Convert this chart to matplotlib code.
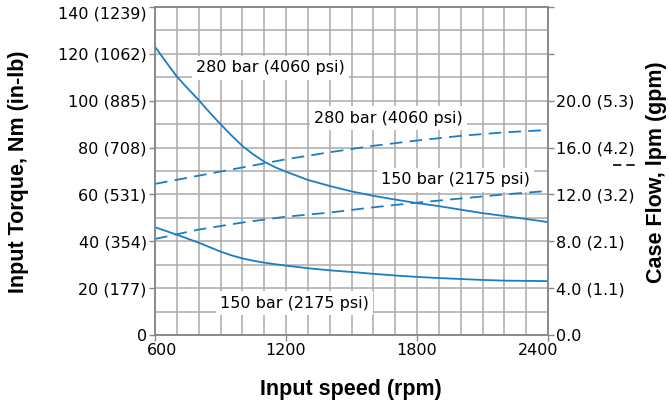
import matplotlib
matplotlib.use("Agg")
import matplotlib.pyplot as plt
import matplotlib.transforms as mtrans
from matplotlib.lines import Line2D
import numpy as np

plt.rcParams['font.family'] = ['DejaVu Sans']

# input speed, rpm
speed = [600, 650, 700, 750, 800, 850, 900, 950, 1000, 1050, 1100, 1150, 1200, 1300, 1400, 1500, 1600,
         1700, 1800, 1900, 2000, 2100, 2200, 2300, 2400]
# input torque, Nm
torque_280 = [123.0, 116.6, 110.3, 105.2, 100.3, 95.0, 90.0, 85.2, 80.7, 77.1, 74.0, 71.6, 69.7, 66.2, 63.6,
              61.3, 59.4, 57.8, 56.3, 55.0, 53.5, 52.0, 50.8, 49.5, 48.2]
torque_150 = [46.0, 44.4, 42.8, 41.1, 39.4, 37.5, 35.6, 34.0, 32.7, 31.7, 30.9, 30.2, 29.6, 28.5, 27.6,
              26.9, 26.1, 25.4, 24.8, 24.3, 23.9, 23.5, 23.2, 23.1, 23.0]
# case flow, lpm
flow_speed = [600, 800, 1000, 1200, 1400, 1600, 1800, 2000, 2200, 2400]
flow_280 = [12.9, 13.6, 14.3, 15.0, 15.6, 16.15, 16.6, 17.0, 17.3, 17.5]
flow_150 = [8.2, 9.0, 9.6, 10.1, 10.45, 10.9, 11.3, 11.65, 12.0, 12.3]

x_ticks = [600, 1200, 1800, 2400]
y_ticks = [0, 20, 40, 60, 80, 100, 120, 140]
y_labels = ["0", "20 (177)", "40 (354)", "60 (531)", "80 (708)", "100 (885)", "120 (1062)", "140 (1239)"]
flow_ticks = [0, 4, 8, 12, 16, 20, 24, 28]
flow_labels = ["0.0", "4.0 (1.1)", "8.0 (2.1)", "12.0 (3.2)", "16.0 (4.2)", "20.0 (5.3)", "", ""]

blue = "#1b7dc4"
grid_c = "#ababab"
fs = 11.5
bold = dict(family="Liberation Sans", fontsize=15.5, fontweight="bold", ha="center", va="center")

fig = plt.figure(figsize=(6.69, 4.04), dpi=100)
ax = fig.add_axes([0.2317, 0.1708, 0.5875, 0.8119])
ax2 = ax.twinx()

ax.set_xlim(600, 2400)
ax.set_ylim(0, 140)
ax2.set_ylim(0, 28)

ax.set_xticks(np.arange(600, 2401, 100), minor=True)
ax.set_yticks(np.arange(0, 141, 10), minor=True)
ax.grid(True, which="both", color=grid_c, linewidth=1.1)
ax.tick_params(which="minor", length=0)
ax.set_axisbelow(True)

ax.set_xticks(x_ticks)
ax.set_xticklabels([str(t) for t in x_ticks], fontsize=fs)
ax.set_yticks(y_ticks)
ax.set_yticklabels(y_labels, fontsize=fs)
ax2.set_yticks(flow_ticks)
ax2.set_yticklabels(flow_labels, fontsize=fs)
for a in (ax, ax2):
    a.tick_params(which="major", length=4, width=1, color="#888888", pad=2)
    for s in a.spines.values():
        s.set_color("#888888")
        s.set_linewidth(1.1)

# nudge edge labels like the original
xl = ax.get_xticklabels()
xl[0].set_transform(xl[0].get_transform() + mtrans.ScaledTranslation(7 / 100, 0, fig.dpi_scale_trans))
xl[-1].set_transform(xl[-1].get_transform() + mtrans.ScaledTranslation(-10 / 100, 0, fig.dpi_scale_trans))
ax.get_yticklabels()[-1].set_va("top")

ax.plot(speed, torque_280, color=blue, lw=1.3)
ax.plot(speed, torque_150, color=blue, lw=1.3)
ax2.plot(flow_speed, flow_280, color=blue, lw=1.3, dashes=(7, 4))
ax2.plot(flow_speed, flow_150, color=blue, lw=1.3, dashes=(7, 4))

box = dict(facecolor="white", edgecolor="none", pad=3)
ax.text(1127, 114, "280 bar (4060 psi)", fontsize=fs, ha="center", va="center", bbox=box, zorder=1)
ax.text(1669, 92.6, "280 bar (4060 psi)", fontsize=fs, ha="center", va="center", bbox=box, zorder=1)
ax.text(1976, 66.2, "150 bar (2175 psi)", fontsize=fs, ha="center", va="center", bbox=box, zorder=1)
ax.text(1240, 13.6, "150 bar (2175 psi)", fontsize=fs, ha="center", va="center", bbox=box, zorder=1)

fig.text(0.027, 0.574, "Input Torque, Nm (in-lb)", rotation=90, **bold)
fig.text(0.982, 0.574, "Case Flow, lpm (gpm)", rotation=90, **bold)
fig.text(0.525, 0.037, "Input speed (rpm)", **bold)
fig.add_artist(Line2D([0.916, 0.954], [0.592, 0.592], color="black", lw=1.2, dashes=(5, 3)))

fig.savefig("out.png", dpi=100)
